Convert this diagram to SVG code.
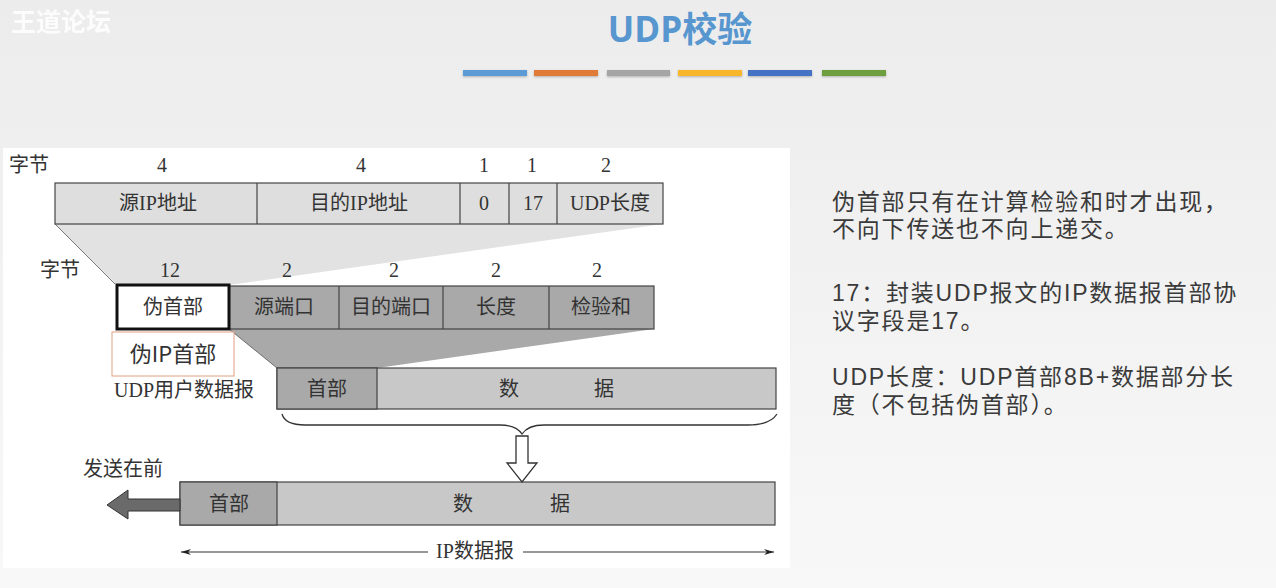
<svg xmlns="http://www.w3.org/2000/svg" width="1276" height="588" viewBox="0 0 1276 588">
  <defs>
    <linearGradient id="bg" x1="0" y1="0" x2="0" y2="1">
      <stop offset="0" stop-color="#ececec"/>
      <stop offset="1" stop-color="#f8f8f8"/>
    </linearGradient>
    <marker id="tip" viewBox="0 0 10 6" refX="10" refY="3" markerWidth="10" markerHeight="6" orient="auto-start-reverse" markerUnits="userSpaceOnUse">
      <path d="M0,0 L10,3 L0,6 L3,3 Z" fill="#222"/>
    </marker>
    <filter id="soft" x="-5%" y="-50%" width="110%" height="200%">
      <feDropShadow dx="0" dy="1" stdDeviation="0.8" flood-color="#000" flood-opacity="0.25"/>
    </filter>
  </defs>
  <style>
    .dg { font-family: "Liberation Serif", "Noto Sans CJK SC", serif; font-size: 20px; fill: #333; text-anchor: middle; }
    .dgl { font-family: "Liberation Serif", "Noto Sans CJK SC", serif; font-size: 20px; fill: #333; }
    .cell { stroke: #444; stroke-width: 1.2; }
    .light { fill: #dedede; }
    .mid { fill: #c8c8c8; }
    .dark { fill: #a9a9a9; }
    .note { font-family: "Liberation Sans", "Noto Sans CJK SC", sans-serif; font-size: 23px; fill: #3a3a3a; letter-spacing: 1.8px; }
  </style>

  <!-- page background -->
  <rect x="0" y="0" width="1276" height="588" fill="url(#bg)"/>

  <!-- corner mark -->
  <text x="11" y="31" font-family="Noto Sans CJK SC, sans-serif" font-size="25" font-weight="bold" fill="#ffffff" opacity="0.85">王道论坛</text>

  <!-- title -->
  <text x="680" y="42" font-family="'Open Sans', 'Noto Sans CJK SC', sans-serif" font-size="35" font-weight="bold" fill="#5896cf" text-anchor="middle">UDP校验</text>
  <g filter="url(#soft)">
    <rect x="463" y="70" width="64" height="6" fill="#5b9bd5"/>
    <rect x="534" y="70" width="64" height="6" fill="#e07b39"/>
    <rect x="607" y="70" width="63" height="6" fill="#a5a5a5"/>
    <rect x="678" y="70" width="64" height="6" fill="#f8b62a"/>
    <rect x="748" y="70" width="64" height="6" fill="#4472c4"/>
    <rect x="822" y="70" width="64" height="6" fill="#6d9f3f"/>
  </g>

  <!-- figure panel -->
  <rect x="3" y="148" width="787" height="420" fill="#ffffff"/>

  <!-- projection bands -->
  <g id="bands">
    <polygon points="55,224 663,224 229,285 117,285" fill="#e2e2e2"/>
    <line x1="55" y1="224" x2="115" y2="284" stroke="#555" stroke-width="0.8"/>
    <polygon points="229,329 654,329 377,368 277,368" fill="#a9a9a9"/>
    <line x1="229" y1="329" x2="277" y2="368" stroke="#555" stroke-width="0.8"/>
  </g>

  <!-- pseudo header row -->
  <g id="pseudo-header">
    <text class="dgl" x="9" y="172">字节</text>
    <text class="dg" x="162" y="172">4</text>
    <text class="dg" x="361" y="172">4</text>
    <text class="dg" x="484" y="172">1</text>
    <text class="dg" x="532" y="172">1</text>
    <text class="dg" x="606" y="172">2</text>
    <rect class="cell light" x="55" y="183" width="608" height="41"/>
    <line class="cell" x1="257" y1="183" x2="257" y2="224"/>
    <line class="cell" x1="460" y1="183" x2="460" y2="224"/>
    <line class="cell" x1="509" y1="183" x2="509" y2="224"/>
    <line class="cell" x1="557" y1="183" x2="557" y2="224"/>
    <text class="dg" x="158" y="210">源IP地址</text>
    <text class="dg" x="359" y="210">目的IP地址</text>
    <text class="dg" x="484" y="210">0</text>
    <text class="dg" x="533" y="210">17</text>
    <text class="dg" x="610" y="210">UDP长度</text>
  </g>

  <!-- UDP header row -->
  <g id="udp-header">
    <text class="dgl" x="40" y="277">字节</text>
    <text class="dg" x="170" y="277">12</text>
    <text class="dg" x="287" y="277">2</text>
    <text class="dg" x="394" y="277">2</text>
    <text class="dg" x="496" y="277">2</text>
    <text class="dg" x="597" y="277">2</text>
    <rect class="cell dark" x="229" y="286" width="425" height="43"/>
    <line class="cell" x1="339" y1="286" x2="339" y2="329"/>
    <line class="cell" x1="443" y1="286" x2="443" y2="329"/>
    <line class="cell" x1="549" y1="286" x2="549" y2="329"/>
    <text class="dg" x="284" y="314">源端口</text>
    <text class="dg" x="391" y="314">目的端口</text>
    <text class="dg" x="496" y="314">长度</text>
    <text class="dg" x="601" y="314">检验和</text>
  </g>

  <!-- pseudo header cell -->
  <g id="pseudo-cell">
    <rect x="117" y="285" width="112" height="44" fill="#ffffff" stroke="#111" stroke-width="3"/>
    <text class="dg" x="173" y="314">伪首部</text>
  </g>

  <!-- callout -->
  <g id="callout">
    <rect x="112" y="332" width="122" height="44" fill="#ffffff" stroke="#e0a080" stroke-width="1"/>
    <text x="173" y="362" font-family="'Noto Sans CJK SC', sans-serif" font-size="22" fill="#333" text-anchor="middle">伪IP首部</text>
  </g>

  <!-- UDP datagram -->
  <g id="udp-datagram">
    <text class="dgl" x="114" y="397">UDP用户数据报</text>
    <rect class="cell mid" x="277" y="368" width="499" height="41"/>
    <rect class="cell dark" x="277" y="368" width="100" height="41"/>
    <text class="dg" x="327" y="396">首部</text>
    <text class="dg" x="509" y="396">数</text>
    <text class="dg" x="604" y="396">据</text>
  </g>

  <!-- IP datagram -->
  <g id="ip-datagram">
    <text class="dgl" x="83" y="476">发送在前</text>
    <rect class="cell mid" x="180" y="482" width="595" height="43"/>
    <rect class="cell dark" x="180" y="482" width="97" height="43"/>
    <text class="dg" x="229" y="511">首部</text>
    <text class="dg" x="463" y="511">数</text>
    <text class="dg" x="560" y="511">据</text>
    <text class="dg" x="475" y="558">IP数据报</text>
  </g>

  <!-- connectors -->
  <g id="connectors" fill="none" stroke="#333">
    <!-- brace under the UDP datagram -->
    <path d="M282,414 Q285,425 305,425 L500,425 Q516,425 522,434 Q528,425 544,425 L748,425 Q770,425 777,414" stroke-width="1.3"/>
    <!-- hollow down arrow -->
    <path d="M516,436 L528,436 L528,463 L537,463 L522,482 L507,463 L516,463 Z" fill="#ffffff" stroke-width="1.3"/>
    <!-- sending direction arrow -->
    <path d="M180,499 L128,499 L128,490 L107,505 L128,519 L128,511 L180,511 Z" fill="#6a6a6a" stroke="#333" stroke-width="1"/>
    <!-- length span -->
    <line x1="428" y1="552" x2="181" y2="552" stroke-width="1.2" marker-end="url(#tip)"/>
    <line x1="523" y1="552" x2="774" y2="552" stroke-width="1.2" marker-end="url(#tip)"/>
  </g>

  <!-- notes -->
  <g id="notes">
    <text class="note" x="832" y="210">伪首部只有在计算检验和时才出现，</text>
    <text class="note" x="832" y="237">不向下传送也不向上递交。</text>
    <text class="note" x="832" y="301">17：封装UDP报文的IP数据报首部协</text>
    <text class="note" x="832" y="329">议字段是17。</text>
    <text class="note" x="832" y="385">UDP长度：UDP首部8B+数据部分长</text>
    <text class="note" x="832" y="413">度（不包括伪首部）。</text>
  </g>
</svg>
